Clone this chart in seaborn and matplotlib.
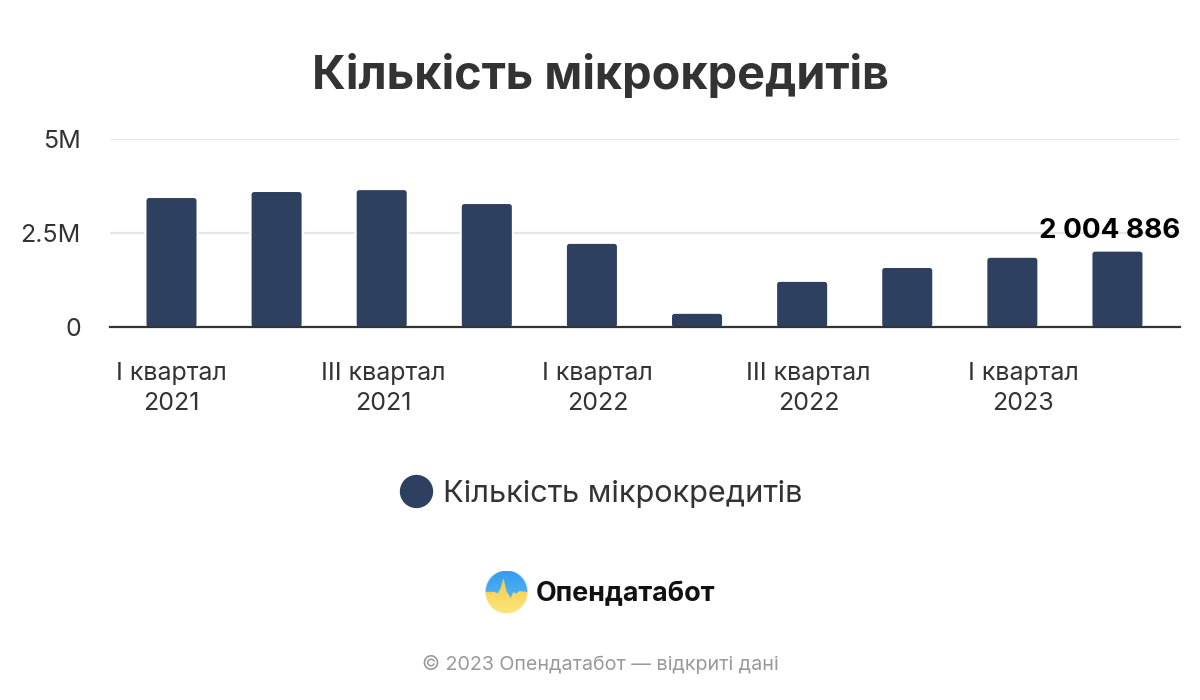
import numpy as np
import pandas as pd
import matplotlib
matplotlib.use('Agg')
import matplotlib.pyplot as plt
import matplotlib.patheffects as pe
from matplotlib.lines import Line2D
from matplotlib.patches import FancyBboxPatch
import seaborn as sns

# Data
quarters = ['I 2021', 'II 2021', 'III 2021', 'IV 2021', 'I 2022',
            'II 2022', 'III 2022', 'IV 2022', 'I 2023', 'II 2023']
loans = [3430000, 3590000, 3640000, 3270000, 2210000,
         350000, 1200000, 1570000, 1840000, 2004886]
shown_labels = ['I квартал\n2021', 'III квартал\n2021', 'I квартал\n2022',
                'III квартал\n2022', 'I квартал\n2023']
y_ticks = [0, 2500000, 5000000]
y_labels = ['0', '2.5M', '5M']
series_name = 'Кількість мікрокредитів'
last_label = '2 004 886'

NAVY = '#2e4060'
DARK = '#333333'

sns.set_theme(style='white')
plt.rcParams['font.family'] = ['Inter', 'DejaVu Sans']

df = pd.DataFrame({'quarter': quarters, 'loans': loans})

W, H = 1200, 700
fig = plt.figure(figsize=(W / 100, H / 100), dpi=100, facecolor='white')
# axes box in pixels: x 110-1180, y 139-327
ax = fig.add_axes([110 / W, 1 - 327 / H, 1070 / W, 188 / H])

sns.barplot(data=df, x='quarter', y='loans', color=NAVY, width=0.476, saturation=1, ax=ax)
ax.set_xlim(-0.585, 9.595)
ax.set_ylim(0, 5000000)

# round the bar tops and keep a white halo over the grid lines
aspect = (5000000 / 188) / (10.18 / 1070)
for bar in list(ax.patches):
    x, y, w, h = bar.get_x(), bar.get_y(), bar.get_width(), bar.get_height()
    rounded = FancyBboxPatch((x, y), w, h, boxstyle='round,pad=0,rounding_size=0.025',
                             mutation_aspect=aspect, facecolor=NAVY, edgecolor='none', zorder=3)
    rounded.set_path_effects([pe.withStroke(linewidth=3, foreground='white')])
    bar.remove()
    ax.add_patch(rounded)

ax.set_xlabel('')
ax.set_ylabel('')
ax.set_yticks(y_ticks)
ax.set_yticklabels(y_labels, fontsize=18, color=DARK)
# the labels drift right of their bars in the original
ax.set_xticks([0, 2.017, 4.053, 6.06, 8.106])
ax.set_xticklabels(shown_labels, fontsize=18, color=DARK, linespacing=1.38)
ax.tick_params(axis='x', length=0, pad=25.5)
ax.tick_params(axis='y', length=0, pad=21)
ax.grid(axis='y', color='#e6e6e6', linewidth=1.5, zorder=0)
ax.set_axisbelow(True)
for side in ['top', 'right', 'left']:
    ax.spines[side].set_visible(False)
ax.spines['bottom'].set_color(DARK)
ax.spines['bottom'].set_linewidth(1.6)
ax.spines['bottom'].set_zorder(5)

# label of the last bar
ax.annotate(last_label, xy=(1180 / W, 1 - 231 / H), xycoords='figure fraction',
            ha='right', va='center', fontsize=20, fontweight='bold', color='black', zorder=6)

fig.text(600 / W, 1 - 76 / H, series_name, ha='center', va='center',
         fontsize=33.7, fontweight='bold', color=DARK)

handle = Line2D([], [], marker='o', linestyle='none', markersize=23,
                markerfacecolor=NAVY, markeredgecolor=NAVY)
leg = fig.legend([handle], [series_name], loc='center', bbox_to_anchor=(601.5 / W, 1 - 494 / H),
                 frameon=False, fontsize=22.1, handlelength=1.0, handletextpad=0.35,
                 labelcolor=DARK)

# logo: disc, blue above a pulse line and yellow below it
logo_ax = fig.add_axes([485 / W, 1 - 614 / H, 43 / W, 43 / H])
logo_ax.set_axis_off()
n = 215
gx, gy = np.meshgrid(np.linspace(0, 1, n), np.linspace(1, 0, n))
pulse = np.interp(gx, [0, 0.22, 0.3, 0.36, 0.43, 0.5, 0.6, 0.66, 0.72, 0.8, 1],
                  [0.5, 0.5, 0.47, 0.58, 0.82, 0.52, 0.36, 0.5, 0.46, 0.52, 0.5])
rgba = np.zeros((n, n, 4))
blue_top, blue_low = np.array([0.2, 0.6, 0.94]), np.array([0.38, 0.77, 0.95])
yellow_top, yellow_low = np.array([0.96, 0.8, 0.28]), np.array([0.99, 0.9, 0.5])
blue = blue_low + (blue_top - blue_low) * gy[..., None]
yellow = yellow_low + (yellow_top - yellow_low) * (gy[..., None] / 0.8)
rgba[..., :3] = np.where((gy > pulse)[..., None], blue, yellow)
radius = np.sqrt((gx - 0.5) ** 2 + (gy - 0.5) ** 2)
rgba[..., 3] = np.clip((0.49 - radius) * 43 + 0.5, 0, 1)
logo_ax.imshow(rgba, extent=(0, 1, 0, 1), aspect='auto', interpolation='antialiased')

fig.text(536 / W, 1 - 594 / H, 'Опендатабот', ha='left', va='center',
         fontsize=19.4, fontweight='bold', color='#111111')

fig.text(600 / W, 1 - 664 / H, '© 2023 Опендатабот — відкриті дані', ha='center', va='center',
         fontsize=14.2, color='#999999')

fig.savefig('out.png', dpi=100, facecolor='white')
